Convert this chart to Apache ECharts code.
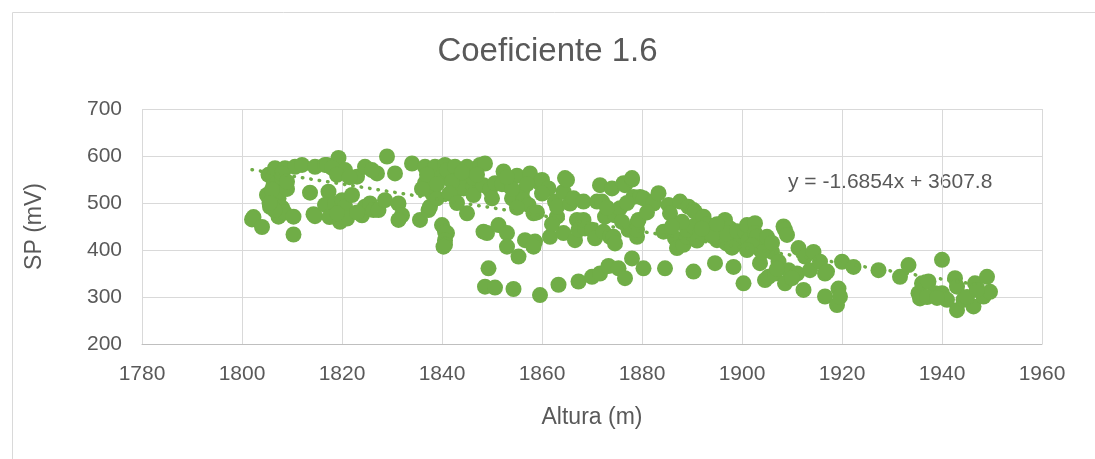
<!DOCTYPE html>
<html>
<head>
<meta charset="utf-8">
<title>Coeficiente 1.6</title>
<script src="https://cdn.jsdelivr.net/npm/echarts@6/dist/echarts.min.js"></script>
<style>
  html, body { margin: 0; padding: 0; background: #fff; }
  #main { width: 1095px; height: 459px; }
</style>
</head>
<body>
<div id="main"></div>
<script type="text/javascript">
// Altura (m) y SP (mV)
var altura = [
  1802.3,1802,1804,1805,1805.6,1805.3,1806.3,1806.3,1806.6,1806,1807.3,1807.3,1807,1807.6,1808,1808.6,1808,1808.5,1806.5,1809,1810.3,1810.3,1810.6,1812,1806,1808,1809,1805.5,
  1813.6,1814.3,1814.6,1814.6,1816.6,1817,1817.3,1816.6,1818.6,1819.3,1819.6,1820,1820.6,1820.6,1821,1822,1823,1824.6,1824,1824.6,1825.6,1826.3,1827,1827.3,1828.6,1829,1830.6,1831.3,1832,1831.3,1834,1818,1819,1821.5,1823,1826,1817.5,1819,
  1835.6,1836.6,1836.6,1837.3,1837.6,1838,1838.6,1839,1839.6,1840,1840.6,1840.6,1841,1840.6,1840.6,1840.3,1841,1842.6,1843,1843.6,1844.3,1845,1845,1846.3,1846.3,1846.3,1847.6,1848.3,1848.3,1848.6,1848.6,1849.3,1849,1849.6,1837,1839,1842,1841.5,1844,1847,1836,1843,
  1850.6,1850,1850.6,1851.3,1852.3,1852.6,1853,1853,1854,1854.3,1855,1855.3,1856,1856.3,1856.6,1857.3,1857.6,1858.3,1858.6,1858.3,1859.6,1860,1859.6,1861.3,1861.6,1862.6,1863,1863,1863.3,1864.3,1864.3,1864.6,1865,1865.6,1866.3,1866.6,1867,1867.3,1867.3,1868.3,1868.6,1868.3,1870,1870,1870.6,1852,1854,1853,1857,1860,1855,1859,1862,
  1871,1871.6,1871.6,1872,1872.3,1872.6,1873.3,1873.6,1874,1874.3,1874.6,1874.6,1875.3,1875.6,1876.3,1876.6,1876.6,1877.3,1878,1878,1878,1878.3,1879,1879,1879,1879.3,1879.6,1880.3,1880.3,1882.3,1882.3,1883.3,1884.3,1884.6,1885.3,1885.6,1873,1877,1876,1881,
  1886.6,1887,1887.6,1888.3,1889,1889,1889.3,1890.3,1890.3,1890.3,1890.6,1891.6,1892.3,1892.3,1893,1894.6,1895,1895,1896.3,1896.6,1896.9,1897.6,1898.3,1899,1899.3,1888,1891,1893,1894,1897,1898,1892,1895,1886,1899,
  1900.3,1900.6,1901,1901.3,1902.6,1902.6,1903,1903.3,1903.6,1904.6,1904.6,1905,1905.3,1906,1906.6,1907.3,1908.3,1908.6,1908.6,1909,1909.3,1911,1911.3,1912.3,1912.6,1913.6,1914.3,1915.6,1916.6,1916.6,1917,1919,1919.3,1919.6,1920,1922.3,1902,1904,1906,1901,1907,1910,
  1927.3,1931.6,1933.3,1935.3,1935.6,1936,1937.3,1938.6,1940,1940,1941,1942.6,1943,1943,1944.3,1946.3,1946.6,1948.3,1949,1949.6,1937,1939,1945,1947
];
var sp = [
  470,465,449,517,492,560,556,538,574,505,510,471,542,525,553,574,490,480,485,530,471,433,577,581,528,562,545,500,
  522,476,472,577,581,581,524,496,499,596,460,506,570,492,467,517,556,577,474,492,499,485,563,485,506,599,563,499,474,464,584,575,560,555,480,570,470,478,
  464,577,542,485,492,521,577,510,553,453,581,439,436,421,411,407,570,577,528,553,531,577,478,535,517,553,581,538,439,584,322,361,436,528,560,540,545,520,565,560,530,500,
  542,510,320,453,567,540,436,407,510,317,558,386,524,506,421,496,563,478,418,407,542,549,304,531,428,503,471,492,326,436,524,553,549,499,510,421,464,443,333,503,446,464,343,443,425,540,530,555,540,520,490,480,455,
  503,538,350,503,439,471,366,428,531,428,414,474,361,489,542,538,340,443,550,553,382,513,457,428,443,464,513,510,361,503,499,521,439,361,496,478,490,500,460,480,
  425,404,503,411,428,443,492,485,450,354,481,436,471,432,446,372,421,439,421,464,414,446,364,421,414,460,420,455,430,435,405,445,455,450,440,
  329,439,453,421,457,436,428,404,372,418,336,428,343,396,350,375,450,443,329,432,357,350,404,315,386,357,396,375,350,301,354,283,318,301,375,364,410,395,415,400,360,340,
  357,343,368,308,297,329,333,308,379,308,294,340,322,272,294,280,329,301,343,311,300,298,300,315
];

// linea de tendencia lineal (ecuacion mostrada en el grafico)
var pendiente = -1.6854;
var intercepto = 3607.8;
var ecuacion = 'y = -1.6854x + 3607.8';

var puntos = altura.map(function (x, i) { return [x, sp[i]]; });
var xMin = Math.min.apply(null, altura);
var xMax = Math.max.apply(null, altura);
var tendencia = [
  [xMin, pendiente * xMin + intercepto],
  [xMax, pendiente * xMax + intercepto]
];

var verde = '#70AD47';
var gris = '#595959';
var fuente = 'Liberation Sans';

var myChart = echarts.init(document.getElementById('main'));
var option = {
  animation: false,
  textStyle: { fontFamily: fuente },
  title: {
    text: 'Coeficiente 1.6',
    left: 'center',
    top: 30,
    textStyle: { color: gris, fontSize: 33, fontWeight: 'normal', fontFamily: fuente }
  },
  grid: { left: 142, right: 53, top: 109, bottom: 115 },
  graphic: [
    {
      type: 'rect',
      left: 10, top: 10,
      shape: { width: 1100, height: 460 },
      style: { fill: 'none', stroke: '#D9D9D9', lineWidth: 1 },
      silent: true
    },
    {
      type: 'text',
      left: 788, top: 172,
      style: { text: ecuacion, fill: gris, fontSize: 21, fontFamily: fuente }
    }
  ],
  xAxis: {
    type: 'value',
    min: 1780, max: 1960, interval: 20,
    name: 'Altura (m)',
    nameLocation: 'middle',
    nameGap: 62,
    nameTextStyle: { color: gris, fontSize: 23 },
    axisLine: { show: true, lineStyle: { color: '#BFBFBF', width: 1 } },
    axisTick: { show: false },
    axisLabel: { color: gris, fontSize: 21, margin: 20, formatter: function (v) { return String(v); } },
    splitLine: { show: true, lineStyle: { color: '#D9D9D9', width: 1 } }
  },
  yAxis: {
    type: 'value',
    min: 200, max: 700, interval: 100,
    name: 'SP (mV)',
    nameLocation: 'middle',
    nameGap: 96,
    nameTextStyle: { color: gris, fontSize: 23 },
    axisLine: { show: false },
    axisTick: { show: false },
    axisLabel: { color: gris, fontSize: 21, margin: 20 },
    splitLine: { show: true, lineStyle: { color: '#D9D9D9', width: 1 } }
  },
  series: [
    {
      name: 'SP',
      type: 'scatter',
      symbol: 'circle',
      symbolSize: 16,
      itemStyle: { color: verde, opacity: 1 },
      data: puntos
    },
    {
      name: 'Lineal (SP)',
      type: 'line',
      data: tendencia,
      symbol: 'none',
      z: 3,
      lineStyle: { color: verde, width: 3.5, type: [0.5, 8], cap: 'round' }
    }
  ]
};
myChart.setOption(option);
</script>
</body>
</html>
